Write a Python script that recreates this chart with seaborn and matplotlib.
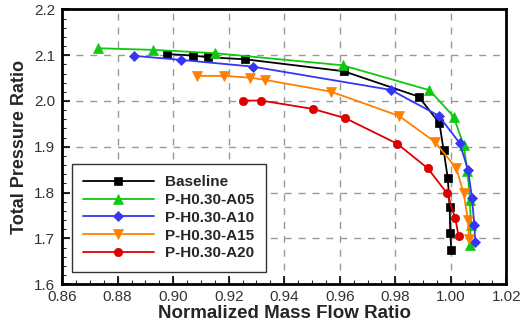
import seaborn as sns
import pandas as pd
import matplotlib
matplotlib.use('Agg')
import matplotlib.pyplot as plt
from matplotlib.ticker import MultipleLocator
import numpy as np

sns.set_style('ticks')
plt.rcParams['font.family'] = ['Liberation Sans', 'DejaVu Sans']

# series data (normalized mass flow, total pressure ratio)
baseline_x = [0.8977, 0.9073, 0.9125, 0.9260, 0.9614, 0.9884, 0.9959, 0.9974, 0.9989, 0.9996, 0.9998, 1.0002]
baseline_y = [2.1026, 2.0991, 2.0956, 2.0910, 2.0650, 2.0096, 1.9515, 1.8930, 1.8314, 1.7680, 1.7110, 1.6750]

a05_x = [0.8729, 0.8929, 0.9151, 0.9610, 0.9923, 1.0010, 1.0046, 1.0060, 1.0069, 1.0072, 1.0068]
a05_y = [2.1152, 2.1116, 2.1044, 2.0780, 2.0236, 1.9660, 1.9040, 1.8460, 1.7840, 1.7290, 1.6860]

a10_x = [0.8860, 0.9029, 0.9287, 0.9784, 0.9956, 1.0032, 1.0062, 1.0076, 1.0085, 1.0088]
a10_y = [2.0985, 2.0897, 2.0750, 2.0242, 1.9680, 1.9080, 1.8495, 1.7890, 1.7290, 1.6910]

a15_x = [0.9085, 0.9184, 0.9275, 0.9332, 0.9568, 0.9813, 0.9942, 1.0020, 1.0046, 1.0062, 1.0065]
a15_y = [2.0548, 2.0548, 2.0510, 2.0460, 2.0205, 1.9675, 1.9110, 1.8530, 1.7987, 1.7400, 1.6990]

a20_x = [0.9251, 0.9317, 0.9503, 0.9620, 0.9806, 0.9917, 0.9986, 1.0016, 1.0028]
a20_y = [2.0009, 2.0009, 1.9827, 1.9625, 1.9070, 1.8530, 1.7987, 1.7440, 1.7050]

labels = ['Baseline', 'P-H0.30-A05', 'P-H0.30-A10', 'P-H0.30-A15', 'P-H0.30-A20']
colors = ['#000000', '#10C810', '#3535F5', '#FF8000', '#DD0000']
markers = ['s', '^', 'D', 'v', 'o']
msizes = [5.5, 6.5, 5.5, 6.5, 6]

series = [(baseline_x, baseline_y), (a05_x, a05_y), (a10_x, a10_y), (a15_x, a15_y), (a20_x, a20_y)]

fig = plt.figure(figsize=(5.22, 3.24), dpi=100)
ax = fig.add_axes([0.119, 0.123, 0.851, 0.848])

for (xs, ys), lab, col, mk, ms in zip(series, labels, colors, markers, msizes):
    df = pd.DataFrame({'flow': xs, 'pr': ys})
    sns.lineplot(ax=ax, data=df, x='flow', y='pr', sort=False, color=col, marker=mk,
                 markersize=ms, markeredgecolor=col, markeredgewidth=0.5, lw=1.3, label=lab)

ax.set_xlim(0.86, 1.02)
ax.set_ylim(1.6, 2.2)
ax.xaxis.set_major_locator(MultipleLocator(0.02))
ax.xaxis.set_minor_locator(MultipleLocator(0.005))
ax.yaxis.set_major_locator(MultipleLocator(0.1))
ax.yaxis.set_minor_locator(MultipleLocator(0.02))
ax.set_xticks(np.arange(0.86, 1.021, 0.02))
ax.set_xticklabels(['%.2f' % v for v in np.arange(0.86, 1.021, 0.02)])
ax.set_yticklabels(['%.1f' % v for v in ax.get_yticks()])
ax.tick_params(which='major', direction='in', length=6, width=1.2, labelsize=11, colors='black',
               labelcolor='#333333', top=False, right=False)
ax.tick_params(axis='x', which='major', pad=4)
ax.tick_params(axis='y', which='major', pad=5)
ax.tick_params(which='minor', direction='in', length=3, width=0.8, top=False, right=False)
ax.grid(True, which='major', ls=(0, (5, 5)), color='#999999', lw=1.0)
for sp in ax.spines.values():
    sp.set_linewidth(2)
    sp.set_color('black')

ax.set_xlabel('Normalized Mass Flow Ratio', fontsize=13.5, fontweight='bold', labelpad=1)
ax.set_ylabel('Total Pressure Ratio', fontsize=13, fontweight='bold', labelpad=4)

leg = ax.legend(loc='lower left', bbox_to_anchor=(0.022, 0.045), borderaxespad=0,
                prop={'weight': 'bold', 'size': 11}, handlelength=4.6, handletextpad=0.75,
                labelspacing=0.25, fancybox=False, framealpha=1, edgecolor='#333333',
                borderpad=0.75)
leg.get_frame().set_linewidth(1.0)

plt.savefig('out.png', dpi=100)
